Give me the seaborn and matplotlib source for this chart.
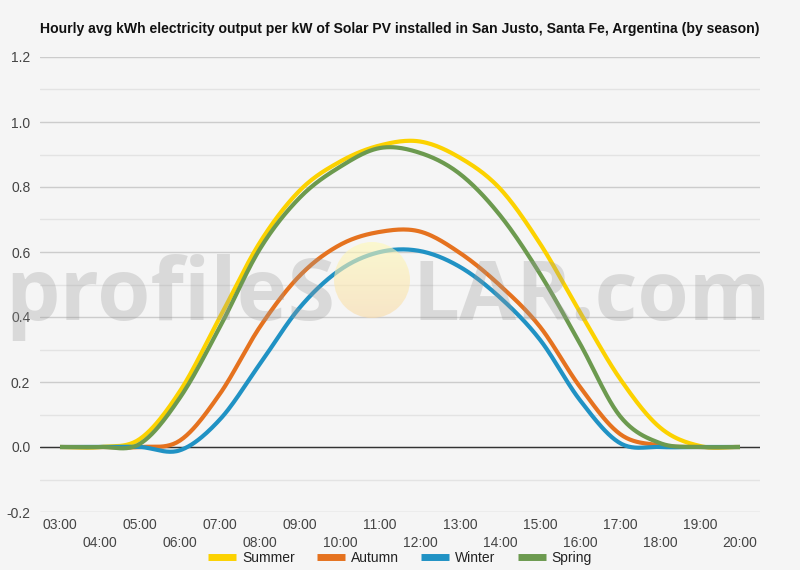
import numpy as np
import pandas as pd
import seaborn as sns
import matplotlib
matplotlib.use("Agg")
import matplotlib.pyplot as plt
from matplotlib.patches import Circle
from matplotlib.lines import Line2D

# ---------------- data ----------------
hours = list(range(3, 21))
hour_labels = [f"{h:02d}:00" for h in hours]
seasons = ["Summer", "Autumn", "Winter", "Spring"]
summer = [0, 0, 0.025, 0.172, 0.40, 0.63, 0.79, 0.878, 0.928, 0.94, 0.89, 0.795, 0.626, 0.415, 0.21, 0.06, 0.003, 0]
autumn = [0, 0, 0, 0.02, 0.164, 0.37, 0.528, 0.622, 0.662, 0.663, 0.597, 0.497, 0.37, 0.185, 0.04, 0.005, 0, 0]
winter = [0, 0, 0, -0.01, 0.085, 0.256, 0.43, 0.545, 0.60, 0.603, 0.554, 0.46, 0.33, 0.144, 0.012, 0, 0, 0]
spring = [0, 0, 0.01, 0.152, 0.37, 0.61, 0.768, 0.862, 0.92, 0.905, 0.84, 0.713, 0.533, 0.318, 0.095, 0.012, 0, 0]
season_values = [summer, autumn, winter, spring]
colors = ["#fcd200", "#e5721f", "#2092c4", "#6c9a4f"]
yticks = [-0.2, 0.0, 0.2, 0.4, 0.6, 0.8, 1.0, 1.2]
title = "Hourly avg kWh electricity output per kW of Solar PV installed in San Justo, Santa Fe, Argentina (by season)"


def smooth(x, y, n=24):
    """Cubic Hermite (Catmull-Rom style) rendering curve through the data points."""
    x = np.asarray(x, float)
    y = np.asarray(y, float)
    m = np.gradient(y, x)
    xs, ys = [], []
    t = np.linspace(0, 1, n, endpoint=False)
    for i in range(len(x) - 1):
        h = x[i + 1] - x[i]
        h00 = 2 * t**3 - 3 * t**2 + 1
        h10 = t**3 - 2 * t**2 + t
        h01 = -2 * t**3 + 3 * t**2
        h11 = t**3 - t**2
        xs.append(x[i] + t * h)
        ys.append(h00 * y[i] + h10 * h * m[i] + h01 * y[i + 1] + h11 * h * m[i + 1])
    xs.append([x[-1]])
    ys.append([y[-1]])
    return np.concatenate(xs), np.concatenate(ys)


frames = []
for name, vals in zip(seasons, season_values):
    sx, sy = smooth(hours, vals)
    frames.append(pd.DataFrame({"hour": sx, "value": sy, "season": name}))
df = pd.concat(frames, ignore_index=True)

# ---------------- style ----------------
sns.set_style("white")
BG = "#f5f5f5"
plt.rcParams["font.family"] = ["Liberation Sans", "DejaVu Sans"]
plt.rcParams["figure.facecolor"] = BG
plt.rcParams["axes.facecolor"] = BG
plt.rcParams["savefig.facecolor"] = BG

fig = plt.figure(figsize=(8, 5.7), dpi=100)
ax = fig.add_axes([40 / 800, 1 - 512 / 570, 720 / 800, (512 - 57) / 570])

sns.lineplot(data=df, x="hour", y="value", hue="season", hue_order=seasons,
             palette=dict(zip(seasons, colors)), linewidth=3.0, sort=False,
             estimator=None, legend=False, ax=ax, zorder=5)
for ln in ax.lines:
    ln.set_solid_capstyle("butt")
    ln.set_solid_joinstyle("round")

ax.set_xlim(2.5, 20.5)
ax.set_ylim(-0.2, 1.2)
ax.set_xlabel("")
ax.set_ylabel("")

ax.set_yticks(yticks)
ax.set_yticklabels([f"{v:.1f}" for v in yticks])
ax.set_yticks(np.arange(-0.1, 1.2, 0.2), minor=True)
ax.grid(True, axis="y", which="major", color="#cccccc", linewidth=1)
ax.grid(True, axis="y", which="minor", color="#e3e3e3", linewidth=1)
ax.grid(False, axis="x")
ax.axhline(0, color="#333333", linewidth=1, zorder=3)
ax.set_axisbelow(True)

odd = [h for h in hours if h % 2 == 1]
even = [h for h in hours if h % 2 == 0]
ax.set_xticks(odd)
ax.set_xticklabels([hour_labels[hours.index(h)] for h in odd])
ax.set_xticks(even, minor=True)
ax.set_xticklabels([hour_labels[hours.index(h)] for h in even], minor=True)
ax.tick_params(axis="x", which="major", length=0, pad=4.5, labelsize=10, labelcolor="#444444")
ax.tick_params(axis="x", which="minor", length=0, pad=17.5, labelsize=10, labelcolor="#444444")
ax.tick_params(axis="y", which="both", length=0, pad=7, labelsize=10, labelcolor="#444444")
for s in ax.spines.values():
    s.set_visible(False)

# title
fig.text(0.5, 1 - 29 / 570, title, ha="center", va="center",
         fontsize=10.1, fontweight="bold", color="#111111")

# legend
handles = [Line2D([0], [0], color=c, lw=5, solid_capstyle="butt") for c in colors]
fig.legend(handles, seasons, loc="center", bbox_to_anchor=(0.5, 1 - 558 / 570),
           ncol=4, frameon=False, fontsize=10, handlelength=2.0, handletextpad=0.45,
           columnspacing=1.6, labelcolor="#222222")

# watermark
wm_color = "#9a9a9a"
t1 = fig.text(5 / 800, 1 - 320 / 570, "profileS", ha="left", va="baseline",
              fontsize=70, family="Open Sans", fontweight="bold", color=wm_color, alpha=0.3, zorder=10)
t2 = fig.text(412 / 800, 1 - 320 / 570, "LAR.com", ha="left", va="baseline",
              fontsize=70, family="Open Sans", fontweight="bold", color=wm_color, alpha=0.3, zorder=10)
fig.canvas.draw()
r = fig.canvas.get_renderer()
for t, target in [(t1, 330), (t2, 358)]:
    w = t.get_window_extent(r).width
    t.set_fontsize(70 * target / w)

# sun disc with a soft vertical gradient
sun_ax = fig.add_axes([334 / 800, 1 - 318 / 570, 76 / 800, 76 / 570], zorder=11)
sun_ax.set_axis_off()
sun_ax.patch.set_alpha(0)
grad = np.linspace(0, 1, 64)[:, None]
top = np.array([1.0, 0.98, 0.72])
bot = np.array([0.98, 0.86, 0.66])
img = top[None, None, :] * (1 - grad[..., None]) + bot[None, None, :] * grad[..., None]
img = np.repeat(img, 4, axis=1)
im = sun_ax.imshow(img, extent=[0, 1, 0, 1], aspect="auto", alpha=0.6, origin="upper")
clip = Circle((0.5, 0.5), 0.5, transform=sun_ax.transAxes)
im.set_clip_path(clip)
sun_ax.set_xlim(0, 1)
sun_ax.set_ylim(0, 1)

fig.savefig("out.png", dpi=100)
